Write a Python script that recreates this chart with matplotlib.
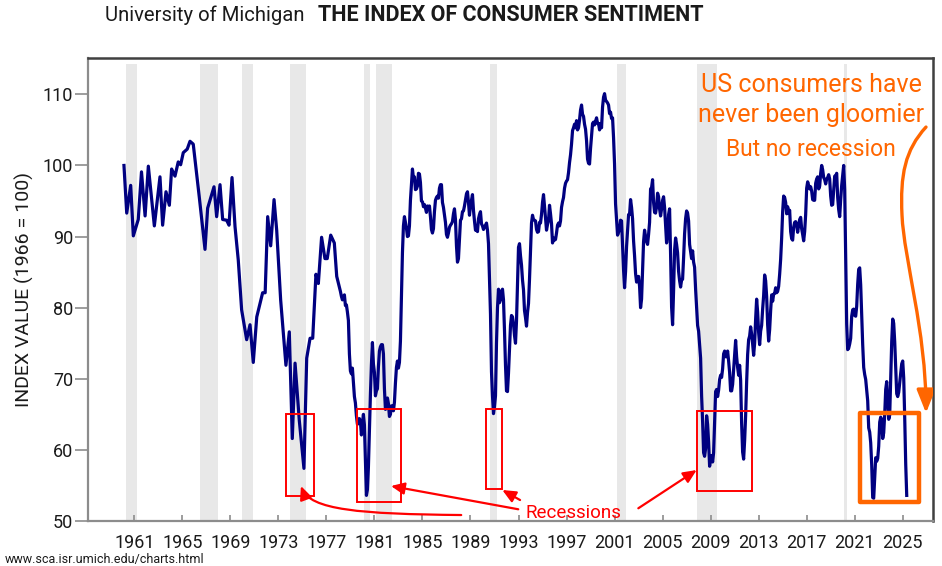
import matplotlib
matplotlib.use("Agg")
import matplotlib.pyplot as plt
import numpy as np
from matplotlib.patches import Rectangle, FancyArrowPatch
from matplotlib.path import Path

plt.rcParams["font.family"] = ["Roboto", "DejaVu Sans"]

NAVY = "#000080"
RED = "#ff0000"
ORANGE = "#ff6600"
SHADE = "#e8e8e8"

# quarterly readings, 1960-1977
EARLY_YEARS = [1960.14, 1960.37, 1960.70, 1960.92, 1961.33, 1961.60, 1961.90, 1962.17,
               1962.67, 1963.14, 1963.36, 1963.64, 1963.92, 1964.11, 1964.39, 1964.66,
               1964.86, 1965.08, 1965.41, 1965.64, 1965.91, 1966.41, 1966.89, 1967.11,
               1967.64, 1967.86, 1968.14, 1968.36, 1968.69, 1968.89, 1969.14, 1969.39,
               1969.66, 1969.94, 1970.36, 1970.64, 1970.91, 1971.20, 1971.69, 1971.90,
               1972.11, 1972.36, 1972.64, 1972.86, 1973.19, 1973.63, 1973.91, 1974.16,
               1974.39, 1974.74, 1975.13, 1975.36, 1975.64, 1975.86, 1976.13, 1976.33,
               1976.60, 1976.88, 1977.07, 1977.36, 1977.66, 1977.86]
EARLY_VALUES = [100.0, 93.3, 97.2, 90.1, 92.4, 99.1, 92.9, 99.9,
                91.5, 98.4, 91.6, 96.3, 94.4, 99.5, 98.5, 100.5,
                100.1, 101.8, 102.3, 103.4, 103.0, 95.6, 88.2, 94.0,
                97.0, 92.8, 97.3, 92.4, 92.3, 91.6, 98.3, 91.4,
                86.7, 79.7, 75.5, 77.6, 72.3, 78.7, 82.1, 82.1,
                92.8, 88.7, 95.2, 90.9, 81.1, 71.9, 76.6, 61.6,
                72.2, 64.2, 57.4, 72.9, 75.7, 75.7, 84.7, 83.4,
                89.9, 86.9, 86.9, 90.2, 89.1, 84.4]

# monthly readings (3-month average) starting March 1978
SENT_1978_1989 = [
    82.3, 81.6, 81.1, 81.5, 81.8, 80.3, 80.4, 79.4, 78.2, 73.5,
    71.1, 70.7, 71.5, 69.4, 67.5, 66.6, 64.8, 63.6, 63.9, 64.4, 64.0, 62.1,
    63.8, 65.0, 63.5, 58.7, 53.6, 54.4, 57.6, 62.8, 67.8, 72.0, 75.1, 72.1,
    70.9, 67.6, 68.3, 68.6, 71.7, 73.9, 74.5, 74.8, 74.8, 73.5, 68.6, 65.7,
    65.9, 67.3, 66.5, 64.7, 65.0, 66.2, 66.2, 65.5, 66.7, 69.4, 71.6, 72.5,
    71.5, 72.3, 75.3, 81.5, 87.7, 91.5, 92.8, 92.0, 91.2, 90.0, 90.1, 91.5,
    95.1, 97.2, 99.5, 98.2, 98.4, 96.6, 96.7, 97.1, 98.9, 98.8, 97.6, 95.0,
    94.9, 94.2, 94.5, 94.0, 93.4, 94.3, 94.1, 94.3, 92.8, 91.0, 90.5, 91.1,
    93.5, 95.1, 95.5, 95.7, 95.4, 96.8, 97.3, 97.3, 94.8, 94.1, 93.0, 92.0,
    90.3, 89.9, 90.5, 91.3, 91.6, 91.8, 92.1, 93.2, 93.9, 92.4, 88.7, 86.4,
    86.9, 89.7, 92.3, 92.5, 93.5, 93.6, 94.3, 95.2, 96.0, 96.3, 94.8, 93.0,
    94.3, 95.1, 95.9, 93.7, 92.2, 90.9, 91.1, 90.7, 92.5, 93.1, 93.5, 91.8,
]
SENT_1990_1999 = [
    91.5, 91.0, 91.3, 91.6, 91.9, 90.9, 89.0, 84.3, 79.1, 71.0, 67.6, 65.1,
    66.1, 67.6, 75.0, 80.0, 82.6, 80.7, 81.1, 82.3, 82.6, 81.1, 76.8, 71.9,
    68.3, 68.2, 70.8, 74.0, 77.5, 78.9, 78.7, 77.7, 76.1, 75.0, 78.1, 83.2,
    88.5, 89.0, 87.3, 86.0, 83.9, 82.5, 79.6, 78.6, 77.4, 79.3, 80.6, 84.0,
    87.9, 91.9, 93.0, 92.4, 92.3, 92.2, 91.0, 90.6, 90.7, 92.0, 91.9, 93.1,
    94.8, 95.9, 94.3, 92.6, 90.9, 91.7, 92.3, 94.4, 93.2, 91.8, 89.1, 89.8,
    89.5, 89.6, 90.5, 91.6, 91.9, 91.5, 92.2, 94.1, 94.9, 95.5, 96.8, 97.5,
    97.8, 98.0, 99.0, 100.4, 101.5, 103.0, 104.9, 105.3, 105.8, 105.3, 106.3, 105.0,
    105.3, 106.4, 107.8, 108.5, 107.2, 106.9, 105.8, 105.1, 103.5, 100.9, 100.3, 100.2,
    102.4, 104.2, 105.9, 106.1, 105.7, 106.2, 106.7, 105.9, 105.9, 105.0, 105.9, 105.3,
]
SENT_2000_2009 = [
    108.2, 109.6, 110.1, 109.2, 109.0, 108.8, 108.5, 107.3, 107.5, 106.6, 106.7, 103.9,
    100.2, 94.6, 92.3, 90.2, 90.6, 91.0, 92.3, 92.2, 88.6, 85.3, 82.8, 85.1,
    88.6, 90.8, 93.1, 93.1, 95.2, 94.1, 92.5, 89.4, 87.3, 84.8, 83.6, 83.8,
    84.4, 83.0, 80.0, 81.2, 85.2, 89.3, 90.9, 90.0, 89.3, 88.9, 90.3, 92.0,
    96.7, 96.9, 98.0, 94.8, 93.4, 93.3, 94.2, 96.1, 95.6, 93.9, 92.9, 93.9,
    95.1, 95.6, 94.1, 91.5, 89.1, 90.2, 93.1, 93.9, 87.5, 80.1, 77.6, 82.4,
    88.1, 89.8, 88.9, 87.7, 85.1, 83.8, 82.9, 83.9, 84.0, 87.0, 90.4, 92.5,
    93.6, 93.3, 92.2, 88.9, 87.9, 86.9, 88.0, 86.4, 85.7, 82.6, 80.1, 77.5,
    76.7, 74.9, 72.9, 67.6, 64.0, 59.6, 59.1, 60.2, 64.8, 63.6, 61.1, 57.7,
    58.9, 59.2, 58.3, 59.6, 63.7, 68.2, 68.5, 67.5, 68.4, 69.9, 70.5, 70.2,
]
SENT_2010_2019 = [
    71.4, 73.5, 73.9, 73.1, 73.1, 73.9, 72.5, 70.9, 68.3, 68.3, 69.2, 71.3,
    73.4, 75.4, 73.1, 71.6, 70.5, 71.9, 69.8, 63.7, 59.7, 58.7, 61.3, 64.8,
    69.5, 73.4, 75.5, 76.0, 77.3, 76.3, 74.9, 73.3, 75.0, 78.4, 81.2, 79.4,
    76.5, 74.8, 76.7, 77.5, 79.8, 81.7, 84.6, 83.8, 81.6, 77.6, 75.3, 76.9,
    79.6, 81.8, 80.9, 81.9, 82.0, 82.8, 82.1, 82.3, 83.0, 84.7, 86.8, 89.8,
    93.5, 95.7, 95.5, 94.8, 93.2, 94.2, 93.3, 93.7, 90.7, 89.7, 89.5, 91.3,
    92.0, 92.1, 91.6, 90.6, 91.6, 92.4, 92.7, 91.1, 90.3, 89.4, 90.7, 93.1,
    96.8, 97.7, 97.2, 96.7, 97.0, 96.4, 95.2, 95.1, 95.1, 97.5, 98.1, 98.4,
    96.7, 97.1, 98.9, 100.0, 99.4, 98.3, 98.0, 97.4, 98.1, 98.3, 98.7, 98.1,
    95.7, 94.4, 94.5, 96.5, 98.5, 98.5, 98.9, 95.5, 93.8, 92.8, 95.2, 97.2,
]
SENT_2020_2025 = [
    98.6, 100.0, 96.6, 87.3, 77.7, 74.1, 74.3, 74.9, 75.7, 78.8, 79.7, 79.8,
    78.9, 78.8, 80.2, 83.3, 85.4, 85.6, 83.2, 79.0, 74.8, 71.6, 70.6, 69.9,
    68.4, 66.9, 63.1, 62.5, 61.0, 57.9, 53.3, 53.2, 56.1, 58.9, 58.4, 58.8,
    60.5, 63.9, 64.6, 64.2, 61.6, 62.4, 65.0, 68.5, 69.6, 67.1, 64.3, 64.9,
    70.0, 75.2, 78.4, 77.8, 75.2, 71.5, 67.9, 67.5, 68.1, 69.5, 70.8, 72.1,
    72.5, 70.1, 64.5, 58.0, 53.6,
]

RECESSION_START = [1960.28, 1966.50, 1969.95, 1973.95, 1980.10, 1981.17, 1990.62, 2001.18, 2007.89, 2020.14]
RECESSION_END = [1961.20, 1967.95, 1970.90, 1975.27, 1980.66, 1982.50, 1991.25, 2001.95, 2009.51, 2020.34]

# red boxes (year0, value0, year1, value1)
RED_BOXES = [
    (1973.61, 53.52, 1975.97, 65.04),
    (1979.52, 52.71, 1983.21, 65.75),
    (1990.27, 54.46, 1991.65, 65.75),
    (2007.84, 54.26, 2012.47, 65.47),
]
ORANGE_BOX = (2021.45, 52.71, 2026.38, 65.14)

XTICKS = list(range(1961, 2026, 4))
YTICKS = [50, 60, 70, 80, 90, 100, 110]


def monthly_years(n, start):
    return start + np.arange(n) / 12.0


def main():
    late = SENT_1978_1989 + SENT_1990_1999 + SENT_2000_2009 + SENT_2010_2019 + SENT_2020_2025
    years = list(EARLY_YEARS) + list(monthly_years(len(late), 1978 + 2 / 12))
    values = list(EARLY_VALUES) + late

    fig = plt.figure(figsize=(9.42, 5.66), dpi=100)
    ax = fig.add_axes([0.0931, 0.0795, 0.8977, 0.8175])

    for s, e in zip(RECESSION_START, RECESSION_END):
        ax.axvspan(s, e, ymin=0, ymax=0.988, color=SHADE, lw=0, zorder=0)

    ax.plot(years, values, color=NAVY, lw=2.3, zorder=3, solid_joinstyle="round")

    ax.set_xlim(1957.12, 2027.55)
    ax.set_ylim(50, 115.07)
    ax.set_xticks(XTICKS)
    ax.set_yticks(YTICKS)

    for side in ("left", "bottom"):
        ax.spines[side].set_color("#8c8c8c")
        ax.spines[side].set_linewidth(1.6)
    for side in ("top", "right"):
        ax.spines[side].set_color("#404040")
        ax.spines[side].set_linewidth(1.8)

    ax.tick_params(axis="y", direction="out", length=9.5, width=1.2, color="#8c8c8c",
                   pad=1, labelsize=13, labelcolor="#1a1a1a")
    ax.tick_params(axis="x", direction="in", length=4, width=1.2, color="#8c8c8c",
                   pad=9, labelsize=13, labelcolor="#1a1a1a")
    ax.set_ylabel("INDEX VALUE (1966 = 100)", fontsize=14, color="#1a1a1a")
    ax.yaxis.set_label_coords(-0.0635, 0.5)

    # boxes
    for x0, y0, x1, y1 in RED_BOXES:
        ax.add_patch(Rectangle((x0, y0), x1 - x0, y1 - y0, fill=False, ec=RED,
                               lw=1.4, zorder=4))
    x0, y0, x1, y1 = ORANGE_BOX
    ax.add_patch(Rectangle((x0, y0), x1 - x0, y1 - y0, fill=False, ec=ORANGE,
                           lw=3.2, joinstyle="round", zorder=4))

    # recession arrows
    red_style = "-|>,head_length=1.0,head_width=0.45"
    curve = Path([(1988.23, 50.84), (1979.8, 50.98), (1975.64, 51.54), (1974.88, 54.92)],
                 [Path.MOVETO, Path.CURVE4, Path.CURVE4, Path.CURVE4])
    ax.add_patch(FancyArrowPatch(path=curve, arrowstyle=red_style, mutation_scale=8,
                                 color=RED, lw=1.6, zorder=5))
    for tail, tip in [((1992.98, 51.65), (1982.38, 54.92)),
                      ((1993.13, 52.95), (1991.65, 54.36)),
                      ((2002.98, 51.79), (2007.84, 57.17))]:
        ax.annotate("", xy=tip, xytext=tail,
                    arrowprops=dict(arrowstyle=red_style, mutation_scale=8, color=RED,
                                    lw=1.6, shrinkA=0, shrinkB=0), zorder=5)
    ax.text(1997.55, 50.42, "Recessions", color=RED, fontsize=13.5,
            ha="center", va="baseline", zorder=5)

    # orange callout
    ax.text(2017.36, 110.36, "US consumers have", color=ORANGE, fontsize=18,
            ha="center", va="baseline")
    ax.text(2017.36, 106.14, "never been gloomier", color=ORANGE, fontsize=18,
            ha="center", va="baseline")
    ax.text(2017.36, 101.32, "But no recession", color=ORANGE, fontsize=16.5,
            ha="center", va="baseline")
    swoosh = Path([(2026.94, 105.40), (2025.19, 102.17), (2024.78, 98.65), (2024.94, 93.03),
                   (2025.11, 86.70), (2026.94, 76.86), (2026.94, 65.19)],
                  [Path.MOVETO, Path.CURVE4, Path.CURVE4, Path.CURVE4,
                   Path.CURVE4, Path.CURVE4, Path.CURVE4])
    ax.add_patch(FancyArrowPatch(path=swoosh, arrowstyle="-|>,head_length=1.0,head_width=0.4",
                                 mutation_scale=14, color=ORANGE, lw=2.4, zorder=5))

    # title and source
    t1 = fig.text(105 / 942, 1 - 15 / 566, "University of Michigan", fontsize=14.6,
                  ha="left", va="center", color="#1a1a1a")
    fig.canvas.draw()
    bb = t1.get_window_extent()
    fig.text((bb.x1 + 13) / 942, 1 - 15 / 566, "THE INDEX OF CONSUMER SENTIMENT",
             fontsize=15.5, fontweight="bold", ha="left", va="center", color="#1a1a1a")
    fig.text(5 / 942, 1 - 559 / 566, "www.sca.isr.umich.edu/charts.html", fontsize=9,
             ha="left", va="center", color="#1a1a1a")

    fig.savefig("out.png", dpi=100, facecolor="white")
    plt.close(fig)


if __name__ == "__main__":
    main()
